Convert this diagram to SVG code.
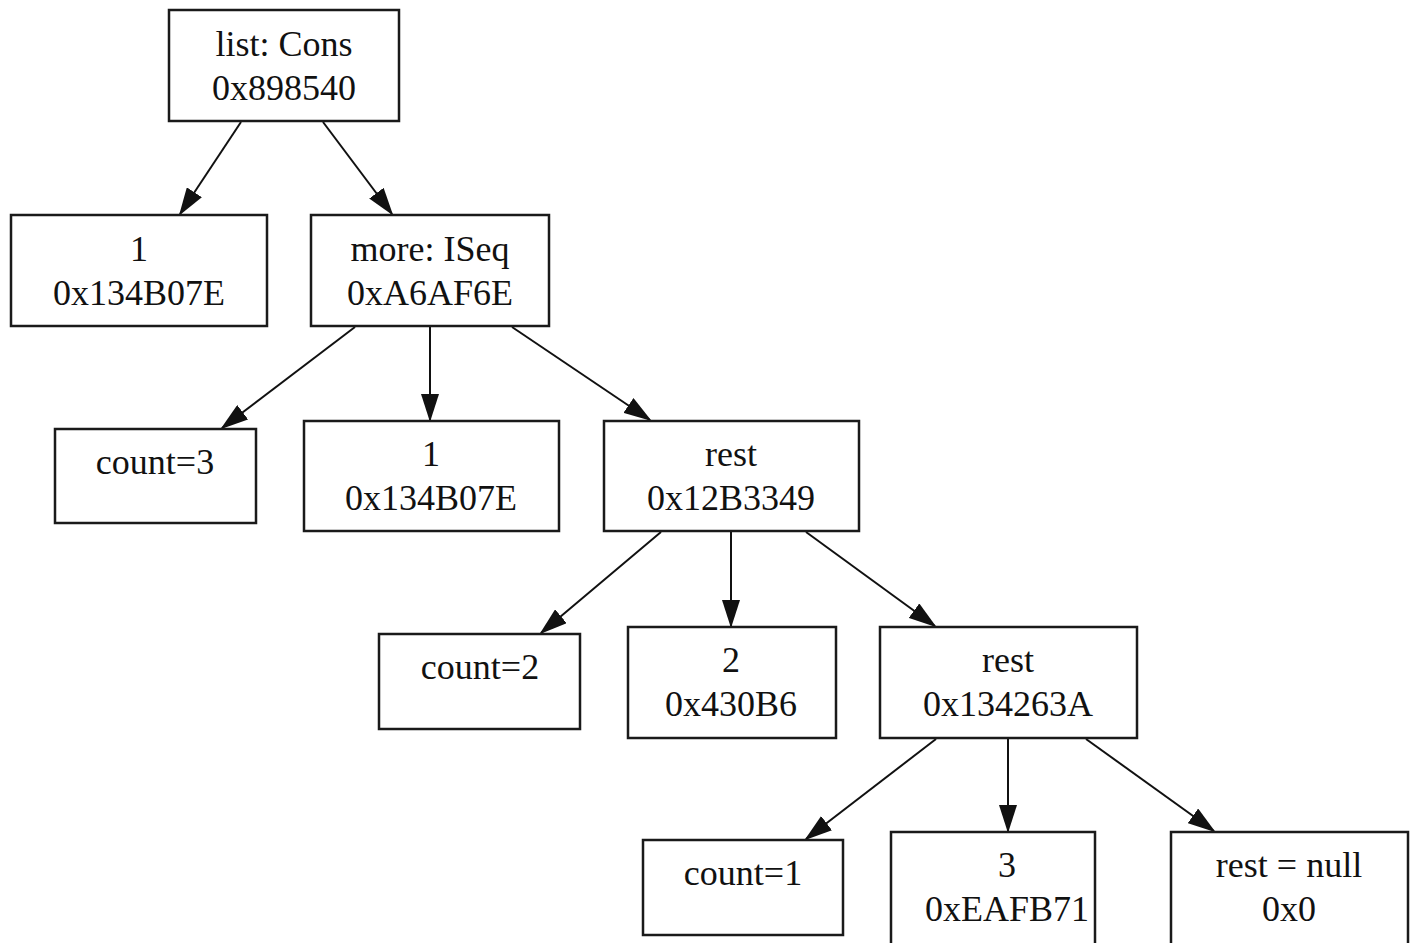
<svg xmlns="http://www.w3.org/2000/svg" width="1416" height="943" viewBox="0 0 1416 943">
  <style>
    .box { fill: #ffffff; stroke: #1a1a1a; stroke-width: 2.5; }
    .lbl { font-family: "Liberation Serif", "Times New Roman", serif; font-size: 36px; fill: #111111; text-anchor: middle; }
    .edge { stroke: #111111; stroke-width: 2; fill: none; marker-end: url(#arrow); }
  </style>
  <defs>
    <marker id="arrow" markerWidth="14" markerHeight="9" refX="13" refY="4.5" orient="auto" markerUnits="strokeWidth">
      <path d="M0,0 L14,4.5 L0,9 Z" fill="#111111"/>
    </marker>
  </defs>
  <rect width="1416" height="943" fill="#ffffff"/>

  <g id="connectors">
    <line class="edge" x1="241" y1="122" x2="180" y2="214"/>
    <line class="edge" x1="323" y1="122" x2="392" y2="214"/>
    <line class="edge" x1="355" y1="327" x2="222" y2="428"/>
    <line class="edge" x1="430" y1="327" x2="430" y2="420"/>
    <line class="edge" x1="512" y1="327" x2="650" y2="420"/>
    <line class="edge" x1="661" y1="532" x2="541" y2="633"/>
    <line class="edge" x1="731" y1="532" x2="731" y2="626"/>
    <line class="edge" x1="806" y1="532" x2="935" y2="626"/>
    <line class="edge" x1="936" y1="739" x2="806" y2="839"/>
    <line class="edge" x1="1008" y1="739" x2="1008" y2="831"/>
    <line class="edge" x1="1086" y1="739" x2="1214" y2="831"/>
  </g>

  <g id="list">
    <rect class="box" x="169" y="10" width="230" height="111"/>
    <text class="lbl" x="284" y="56">list: Cons</text>
    <text class="lbl" x="284" y="100">0x898540</text>
  </g>
  <g id="first">
    <rect class="box" x="11" y="215" width="256" height="111"/>
    <text class="lbl" x="139" y="261">1</text>
    <text class="lbl" x="139" y="305">0x134B07E</text>
  </g>
  <g id="more">
    <rect class="box" x="311" y="215" width="238" height="111"/>
    <text class="lbl" x="430" y="261">more: ISeq</text>
    <text class="lbl" x="430" y="305">0xA6AF6E</text>
  </g>
  <g id="count3">
    <rect class="box" x="55" y="429" width="201" height="94"/>
    <text class="lbl" x="155" y="474">count=3</text>
  </g>
  <g id="item1">
    <rect class="box" x="304" y="421" width="255" height="110"/>
    <text class="lbl" x="431" y="466">1</text>
    <text class="lbl" x="431" y="510">0x134B07E</text>
  </g>
  <g id="rest1">
    <rect class="box" x="604" y="421" width="255" height="110"/>
    <text class="lbl" x="731" y="466">rest</text>
    <text class="lbl" x="731" y="510">0x12B3349</text>
  </g>
  <g id="count2">
    <rect class="box" x="379" y="634" width="201" height="95"/>
    <text class="lbl" x="480" y="679">count=2</text>
  </g>
  <g id="item2">
    <rect class="box" x="628" y="627" width="208" height="111"/>
    <text class="lbl" x="731" y="672">2</text>
    <text class="lbl" x="731" y="716">0x430B6</text>
  </g>
  <g id="rest2">
    <rect class="box" x="880" y="627" width="257" height="111"/>
    <text class="lbl" x="1008" y="672">rest</text>
    <text class="lbl" x="1008" y="716">0x134263A</text>
  </g>
  <g id="count1">
    <rect class="box" x="643" y="840" width="200" height="95"/>
    <text class="lbl" x="743" y="885">count=1</text>
  </g>
  <g id="item3">
    <rect class="box" x="891" y="832" width="204" height="113"/>
    <text class="lbl" x="1007" y="877">3</text>
    <text class="lbl" x="1007" y="921">0xEAFB71</text>
  </g>
  <g id="restnull">
    <rect class="box" x="1171" y="832" width="237" height="113"/>
    <text class="lbl" x="1289" y="877">rest = null</text>
    <text class="lbl" x="1289" y="921">0x0</text>
  </g>
</svg>
